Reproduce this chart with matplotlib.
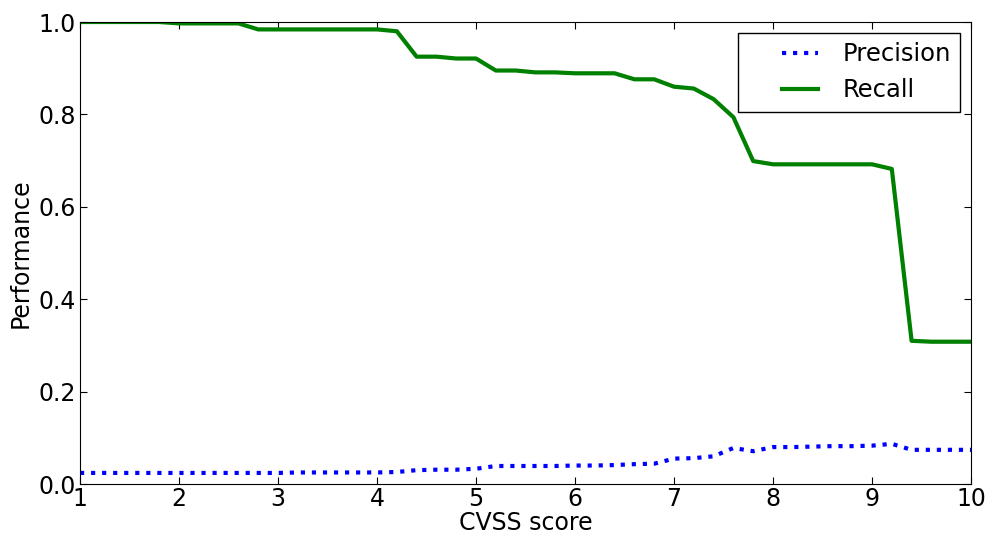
import numpy as np
import matplotlib
matplotlib.use("Agg")
import matplotlib.pyplot as plt
from matplotlib.legend_handler import HandlerLine2D

# CVSS thresholds, step 0.2
cvss = np.round(np.arange(1.0, 10.01, 0.2), 1)

recall = [
    1.000, 1.000, 1.000, 1.000, 1.000, 0.997, 0.997, 0.997, 0.997, 0.984,  # 1.0-2.8
    0.984, 0.984, 0.984, 0.984, 0.984, 0.984, 0.980, 0.925, 0.925, 0.921,  # 3.0-4.8
    0.921, 0.895, 0.895, 0.891, 0.891, 0.889, 0.889, 0.889, 0.876, 0.876,  # 5.0-6.8
    0.860, 0.856, 0.833, 0.794, 0.699, 0.692, 0.692, 0.692, 0.692, 0.692,  # 7.0-8.8
    0.692, 0.682, 0.310, 0.308, 0.308, 0.308,                              # 9.0-10.0
]
precision = [
    0.024, 0.024, 0.024, 0.024, 0.024, 0.024, 0.024, 0.024, 0.024, 0.024,
    0.024, 0.025, 0.025, 0.025, 0.025, 0.025, 0.026, 0.030, 0.031, 0.031,
    0.033, 0.039, 0.039, 0.039, 0.039, 0.040, 0.040, 0.041, 0.043, 0.044,
    0.055, 0.056, 0.060, 0.078, 0.071, 0.080, 0.080, 0.081, 0.082, 0.082,
    0.083, 0.087, 0.074, 0.074, 0.074, 0.074,
]

fig = plt.figure(figsize=(9.89, 5.33), dpi=100)
ax = fig.add_axes([0.0809, 0.0919, 0.9009, 0.8668])

ax.plot(cvss, precision, color="b", linestyle=":", linewidth=3, label="Precision")
ax.plot(cvss, recall, color="g", linestyle="-", linewidth=3, label="Recall")

ax.set_xlim(1, 10)
ax.set_ylim(0, 1.0)
ax.set_xticks(range(1, 11))
ax.set_yticks(np.arange(0, 1.01, 0.2))
ax.tick_params(direction="in", top=True, right=True, labelsize=17, length=5, pad=3)
ax.tick_params(axis="x", pad=2)
ax.set_xlabel("CVSS score", fontsize=17, labelpad=0)
ax.set_ylabel("Performance", fontsize=17, labelpad=4)

# old-style legend: empty gap left of the short handle line
hmap = {ln: HandlerLine2D(xpad=1.4) for ln in ax.get_lines()}
leg = ax.legend(loc="upper right", fontsize=17.5, fancybox=False, handlelength=2.9,
                borderpad=0.38, labelspacing=0.5, handletextpad=1.0,
                borderaxespad=0.45, handler_map=hmap)
leg.get_frame().set_edgecolor("black")
leg.get_frame().set_linewidth(1.0)
leg.get_frame().set_alpha(1.0)

fig.savefig("out.png", dpi=100, facecolor="white")
